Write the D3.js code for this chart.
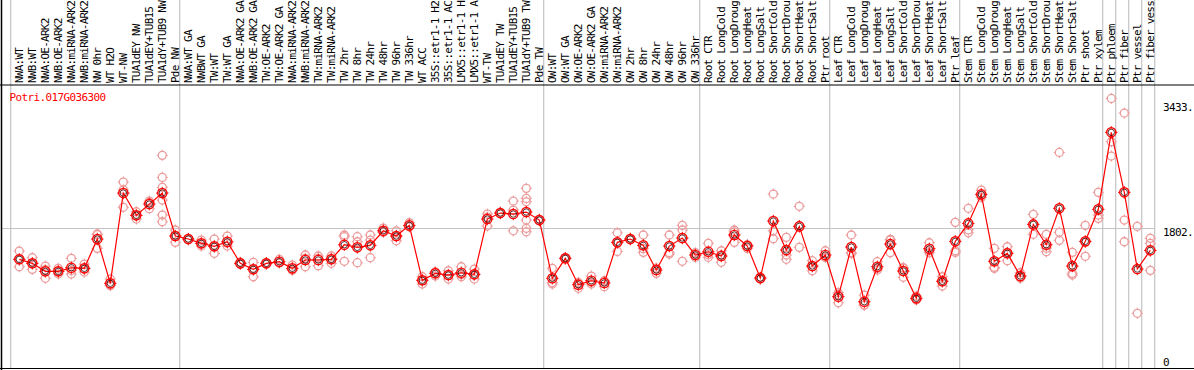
<!DOCTYPE html>
<html><head><meta charset="utf-8">
<script src="https://cdn.jsdelivr.net/npm/d3@7/dist/d3.min.js"></script>
<style>html,body{margin:0;padding:0;background:#fff;}svg{display:block;}</style>
</head><body>
<svg id="chart" width="1194" height="370"></svg>
<script>
const geneTitle = "Potri.017G036300";
const conditions = [
 "NWA:WT","NWB:WT","NWA:OE-ARK2","NWB:OE-ARK2","NWA:miRNA-ARK2","NWB:miRNA-ARK2","NW 0hr","WT H2O","WT-NW","TUA1dEY NW","TUA1dEY+TUB15 NW","TUA1dY+TUB9 NW","Pde NW",
 "NWA:WT GA","NWBWT GA","TW:WT","TW:WT GA","NWA:OE-ARK2 GA","NWB:OE-ARK2 GA","TW:OE-ARK2","TW:OE-ARK2 GA","NWA:miRNA-ARK2","NWB:miRNA-ARK2","TW:miRNA-ARK2","TW:miRNA-ARK2","TW 2hr","TW 8hr","TW 24hr","TW 48hr","TW 96hr","TW 336hr","WT ACC","35S::etr1-1 H2O","35S::etr1-1 ACC","LMX5::etr1-1 H2O","LMX5::etr1-1 ACC","WT-TW","TUA1dEY TW","TUA1dEY+TUB15 TW","TUA1dY+TUB9 TW","Pde TW",
 "OW:WT","OW:WT GA","OW:OE-ARK2","OW:OE-ARK2 GA","OW:miRNA-ARK2","OW:miRNA-ARK2","OW 2hr","OW 8hr","OW 24hr","OW 48hr","OW 96hr","OW 336hr",
 "Root CTR","Root LongCold","Root LongDrought","Root LongHeat","Root LongSalt","Root ShortCold","Root ShortDrought","Root ShortHeat","Root ShortSalt","Ptr root",
 "Leaf CTR","Leaf LongCold","Leaf LongDrought","Leaf LongHeat","Leaf LongSalt","Leaf ShortCold","Leaf ShortDrought","Leaf ShortHeat","Leaf ShortSalt","Ptr leaf",
 "Stem CTR","Stem LongCold","Stem LongDrought","Stem LongHeat","Stem LongSalt","Stem ShortCold","Stem ShortDrought","Stem ShortHeat","Stem ShortSalt","Ptr shoot","Ptr xylem",
 "Ptr phloem","Ptr fiber","Ptr vessel","Ptr fiber vessel"
];
// group boundaries (index of first condition in each group, plus end)
const groupStarts = [0,13,41,53,63,73,84,85,86,87,88];
const meanValues = [
 1396,1344,1240,1240,1287,1279,1659,1085,2255,1966,2112,2255,1698,
 1659,1603,1564,1624,1344,1266,1344,1365,1279,1387,1387,1396,1585,1551,1577,1766,1698,1836,1124,1214,1192,1222,1201,1918,1996,1983,2009,1905,
 1150,1409,1067,1118,1089,1616,1659,1577,1257,1568,1672,1452,
 1494,1439,1711,1568,1153,1892,1516,1823,1309,1452,
 911,1555,846,1300,1594,1244,890,1533,1111,1629,
 1862,2238,1370,1474,1179,1849,1585,2057,1309,1629,2044,
 3042,2264,1270,1512
];
const replicateValues = [
 [1503,1396,1300],[1417,1344,1266],[1309,1150,1262],[1279,1205,1240],[1409,1205,1250],[1335,1231,1270],[1724,1538,1715],[1140,1054,1062],[2398,2070,2297],[2013,1918,1967],[2151,2052,2133],[2744,2458,2329,2164,1970,1883],[1776,1616,1702],
 [1665,1650,1662],[1646,1568,1595],[1659,1474,1560],[1698,1568,1606],[1344,1330,1358],[1357,1170,1271],[1335,1350,1347],[1396,1350,1349],[1322,1260,1255],[1452,1300,1409],[1439,1313,1409],[1439,1344,1405],[1711,1689,1370],[1689,1624,1352],[1711,1646,1417],[1801,1750,1747],[1766,1637,1691],[1870,1820,1818],[1170,1076,1126],[1231,1179,1232],[1248,1140,1188],[1300,1170,1196],[1270,1140,1193],[1983,1827,1944],[2005,1990,1993],[2151,2035,1766],[2316,2186,2142,1905,1798,1753],[1914,1900,1901],
 [1279,1076,1095],[1409,1400,1418],[1085,1020,1096],[1179,1076,1099],[1118,1041,1108],[1740,1499,1609],[1659,1650,1668],[1711,1486,1534],[1214,1280,1277],[1711,1481,1464],[1836,1776,1370],[1481,1422,1453],
 [1603,1422,1457],[1507,1357,1453],[1776,1753,1616],[1538,1580,1586],[1137,1160,1162],[2242,1766,1663],[1681,1452,1396],[2083,1551,1835],[1378,1248,1301],[1507,1429,1420],
 [963,833,937],[1711,1481,1473],[933,804,801],[1365,1257,1278],[1646,1481,1655],[1287,1163,1282],[920,880,870],[1611,1481,1507],[1170,1050,1113],[1875,1507,1486],
 [2057,1776,1740],[2294,2199,2221],[1538,1279,1293],[1559,1378,1485],[1222,1150,1165],[1979,1720,1848],[1720,1494,1541],[2782,1746,1642],[1486,1214,1192],[1836,1435,1616],[2264,1970,1927],
 [3482,2920,2735],[3292,1905,1624],[1823,696],[1668,1603,1253]
];
const yTickValues = [0,1802,3433];
const yTickLabels = ["0","1802.","3433."];
const labelMaxChars = 14; // the reference header shows at most 14 characters per condition

const W = 1194, H = 370;
const plotTop = 85, plotBottom = 368.5, plotLeft = 1.5, plotRight = 1155;
const svg = d3.select("#chart");
svg.append("rect").attr("width",W).attr("height",H).attr("fill","#fff");

const x = d3.scaleBand().domain(d3.range(conditions.length)).range([12.8, 12.8 + 13*conditions.length]).paddingInner(0).paddingOuter(0);
const cx = i => x(i) + x.bandwidth()/2;
const y = d3.scaleLinear().domain([0,3433]).range([367,102.2]);

const FONT = "'DejaVu Sans Mono', monospace";
const grid = "#c4c4c4";

// group separators
svg.append("g").selectAll("line").data(groupStarts).join("line")
  .attr("x1", k => (k < conditions.length ? x(k) : x(k-1) + x.bandwidth()) - 2.1)
  .attr("x2", k => (k < conditions.length ? x(k) : x(k-1) + x.bandwidth()) - 2.1)
  .attr("y1",0).attr("y2",plotBottom)
  .attr("stroke",grid).attr("stroke-width",1.2);

// horizontal grid at middle tick
svg.append("line").attr("x1",plotLeft).attr("x2",plotRight)
  .attr("y1",Math.round(y(1802))+0.5).attr("y2",Math.round(y(1802))+0.5)
  .attr("stroke",grid).attr("stroke-width",1.2);

// frame
svg.append("line").attr("x1",0).attr("x2",W).attr("y1",plotTop).attr("y2",plotTop).attr("stroke","#000").attr("stroke-width",1.2);
svg.append("line").attr("x1",0).attr("x2",W).attr("y1",plotBottom).attr("y2",plotBottom).attr("stroke","#000").attr("stroke-width",1.2);
svg.append("line").attr("x1",plotLeft).attr("x2",plotLeft).attr("y1",0).attr("y2",H).attr("stroke","#000").attr("stroke-width",1.5);

// condition labels (rotated), shortened to what the header shows
svg.append("g").selectAll("text").data(conditions).join("text")
  .attr("transform",(d,i)=>`translate(${cx(i)+4},83) rotate(-90)`)
  .attr("font-family",FONT).attr("font-size","11px").attr("letter-spacing","-0.76px")
  .attr("fill","#000").text(d=>d.slice(0,labelMaxChars).trimEnd());

// title
svg.append("text").attr("x",9.5).attr("y",100.5)
  .attr("font-family",FONT).attr("font-size","11px").attr("letter-spacing","-0.62px")
  .attr("fill","#ff0000").text(geneTitle);

// y tick labels on the right
svg.append("g").selectAll("text").data(yTickValues).join("text")
  .attr("x",1163).attr("y",v=>Math.min(y(v)+8.3,365.5))
  .attr("font-family",FONT).attr("font-size","11px").attr("letter-spacing","-0.62px")
  .attr("fill","#000").text((v,i)=>yTickLabels[i]);

function marker(g, r, color, sw){
  g.append("circle").attr("r",r).attr("fill","none").attr("stroke",color).attr("stroke-width",sw);
  [[0,-1],[0,1],[-1,0],[1,0]].forEach(([dx,dy])=>{
    g.append("line").attr("x1",dx*(r-0.5)).attr("y1",dy*(r-0.5)).attr("x2",dx*(r+1.6)).attr("y2",dy*(r+1.6))
      .attr("stroke",color).attr("stroke-width",1);
  });
}

// replicates
const reps = [];
replicateValues.forEach((arr,i)=>arr.forEach(v=>reps.push({i,v})));
svg.append("g").selectAll("g").data(reps).join("g")
  .attr("transform",d=>`translate(${cx(d.i)},${y(d.v)})`)
  .each(function(){ marker(d3.select(this),4,"#ec9c9c",1.3); });

// mean line
svg.append("path").datum(meanValues)
  .attr("d", d3.line().x((v,i)=>cx(i)).y(v=>y(v)))
  .attr("fill","none").attr("stroke","#ff0000").attr("stroke-width",1.2);

// mean markers
svg.append("g").selectAll("g").data(meanValues).join("g")
  .attr("transform",(v,i)=>`translate(${cx(i)},${y(v)})`)
  .each(function(){
    const g = d3.select(this);
    marker(g,4.6,"#ff0000",1.4);
    g.append("circle").attr("r",3.2).attr("fill","none").attr("stroke","#300").attr("stroke-width",0.8);
  });
</script>
</body></html>
